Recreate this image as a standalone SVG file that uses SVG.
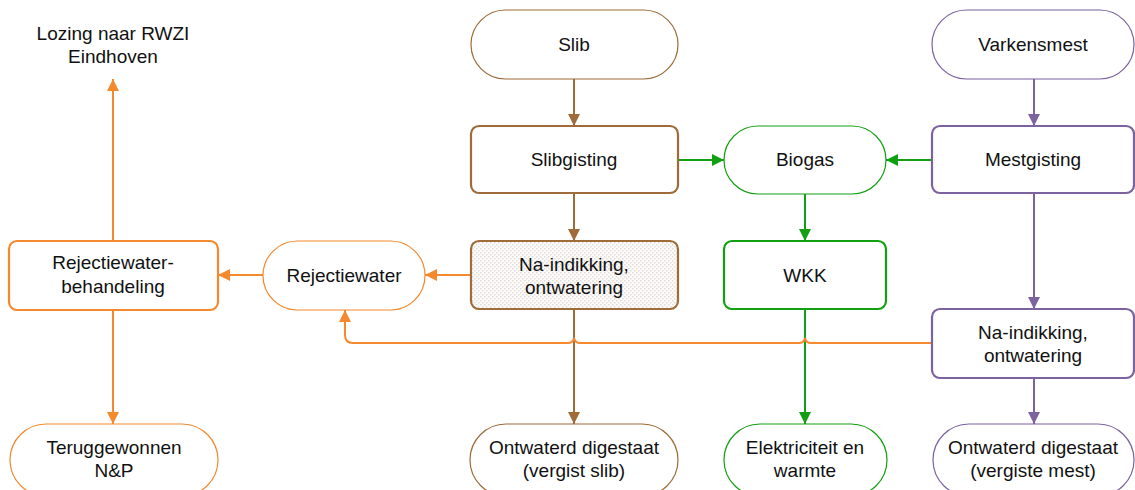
<svg xmlns="http://www.w3.org/2000/svg" width="1135" height="490" viewBox="0 0 1135 490">
  <defs>
    <style>
      text { font-family: "Liberation Sans", Arial, sans-serif; font-size: 19px; fill: #111; text-anchor: middle; }
      .term { fill: #fff; stroke-width: 1.2; }
      .proc { fill: #fff; stroke-width: 2.2; }
      .brown { stroke: #9e6b39; }
      .orange { stroke: #f5892e; }
      .green { stroke: #12a012; }
      .purple { stroke: #7d62a0; }
      .edge { fill: none; stroke-width: 2; }
    </style>
    <pattern id="dots" width="4" height="4" patternUnits="userSpaceOnUse">
      <rect width="4" height="4" fill="#fcfbfa"/>
      <rect x="0" y="0" width="1.5" height="1.5" fill="#e2dcd8"/>
      <rect x="2" y="2" width="1.5" height="1.5" fill="#e2dcd8"/>
    </pattern>
    <marker id="ah-brown" viewBox="0 0 12 12" refX="12" refY="6" markerWidth="12" markerHeight="12" markerUnits="userSpaceOnUse" orient="auto">
      <path d="M0,0 L12,6 L0,12 z" fill="#9e6b39"/>
    </marker>
    <marker id="ah-orange" viewBox="0 0 12 12" refX="12" refY="6" markerWidth="12" markerHeight="12" markerUnits="userSpaceOnUse" orient="auto">
      <path d="M0,0 L12,6 L0,12 z" fill="#f5892e"/>
    </marker>
    <marker id="ah-green" viewBox="0 0 12 12" refX="12" refY="6" markerWidth="12" markerHeight="12" markerUnits="userSpaceOnUse" orient="auto">
      <path d="M0,0 L12,6 L0,12 z" fill="#12a012"/>
    </marker>
    <marker id="ah-purple" viewBox="0 0 12 12" refX="12" refY="6" markerWidth="12" markerHeight="12" markerUnits="userSpaceOnUse" orient="auto">
      <path d="M0,0 L12,6 L0,12 z" fill="#7d62a0"/>
    </marker>
  </defs>

  <rect width="1135" height="490" fill="#fff"/>

  <!-- connectors -->
  <g id="connectors">
    <path class="edge brown" d="M574,79 L574,126" marker-end="url(#ah-brown)"/>
    <path class="edge brown" d="M574,193 L574,241" marker-end="url(#ah-brown)"/>
    <path class="edge brown" d="M574,309 L574,424" marker-end="url(#ah-brown)"/>
    <path class="edge green" d="M678,160 L724,160" marker-end="url(#ah-green)"/>
    <path class="edge green" d="M932,160 L886,160" marker-end="url(#ah-green)"/>
    <path class="edge green" d="M805,194 L805,241" marker-end="url(#ah-green)"/>
    <path class="edge green" d="M805,309 L805,424" marker-end="url(#ah-green)"/>
    <path class="edge purple" d="M1034,79 L1034,126" marker-end="url(#ah-purple)"/>
    <path class="edge purple" d="M1034,193 L1034,309" marker-end="url(#ah-purple)"/>
    <path class="edge purple" d="M1034,378 L1034,424" marker-end="url(#ah-purple)"/>
    <path class="edge orange" d="M471,275 L425,275" marker-end="url(#ah-orange)"/>
    <path class="edge orange" d="M263,275 L218,275" marker-end="url(#ah-orange)"/>
    <path class="edge orange" d="M113,241 L113,79" marker-end="url(#ah-orange)"/>
    <path class="edge orange" d="M113,310 L113,424" marker-end="url(#ah-orange)"/>
    <!-- return line with small hops over the vertical flows -->
    <path class="edge orange" d="M932,343 L811,343 Q806,343 805,338 Q804,343 799,343 L580,343 Q575,343 574,338 Q573,343 568,343 L353,343 Q345,343 345,335 L345,310" marker-end="url(#ah-orange)"/>
  </g>

  <!-- nodes -->
  <g id="lozing">
    <text x="113" y="40">Lozing naar RWZI</text>
    <text x="113" y="63">Eindhoven</text>
  </g>
  <g id="slib">
    <rect class="term brown" x="471" y="10" width="207" height="69" rx="34.5"/>
    <text x="574" y="51">Slib</text>
  </g>
  <g id="varkensmest">
    <rect class="term purple" x="932" y="10" width="202" height="69" rx="34.5"/>
    <text x="1033" y="51">Varkensmest</text>
  </g>
  <g id="slibgisting">
    <rect class="proc brown" x="471" y="126" width="207" height="67" rx="8"/>
    <text x="574" y="166">Slibgisting</text>
  </g>
  <g id="biogas">
    <rect class="term green" x="724" y="126" width="162" height="68" rx="34"/>
    <text x="805" y="166">Biogas</text>
  </g>
  <g id="mestgisting">
    <rect class="proc purple" x="932" y="126" width="202" height="67" rx="8"/>
    <text x="1033" y="166">Mestgisting</text>
  </g>
  <g id="rejectiewaterbehandeling">
    <rect class="proc orange" x="9" y="241" width="209" height="69" rx="8"/>
    <text x="113" y="269">Rejectiewater-</text>
    <text x="113" y="293">behandeling</text>
  </g>
  <g id="rejectiewater">
    <rect class="term orange" x="263" y="241" width="162" height="69" rx="34.5"/>
    <text x="344" y="282">Rejectiewater</text>
  </g>
  <g id="na-indikking-slib">
    <rect class="proc brown" x="471" y="241" width="207" height="68" rx="8" style="fill:url(#dots)"/>
    <text x="574" y="271">Na-indikking,</text>
    <text x="574" y="294">ontwatering</text>
  </g>
  <g id="wkk">
    <rect class="proc green" x="724" y="241" width="162" height="68" rx="8"/>
    <text x="805" y="282">WKK</text>
  </g>
  <g id="na-indikking-mest">
    <rect class="proc purple" x="932" y="309" width="202" height="69" rx="8"/>
    <text x="1033" y="339">Na-indikking,</text>
    <text x="1033" y="362">ontwatering</text>
  </g>
  <g id="teruggewonnen">
    <rect class="term orange" x="10" y="424" width="208" height="72" rx="36"/>
    <text x="114" y="454">Teruggewonnen</text>
    <text x="114" y="477">N&amp;P</text>
  </g>
  <g id="digestaat-slib">
    <rect class="term brown" x="470" y="424" width="208" height="72" rx="36"/>
    <text x="574" y="454">Ontwaterd digestaat</text>
    <text x="574" y="477">(vergist slib)</text>
  </g>
  <g id="elektriciteit">
    <rect class="term green" x="724" y="424" width="163" height="72" rx="36"/>
    <text x="805" y="454">Elektriciteit en</text>
    <text x="805" y="477">warmte</text>
  </g>
  <g id="digestaat-mest">
    <rect class="term purple" x="933" y="424" width="201" height="72" rx="36"/>
    <text x="1033" y="454">Ontwaterd digestaat</text>
    <text x="1033" y="477">(vergiste mest)</text>
  </g>
</svg>
